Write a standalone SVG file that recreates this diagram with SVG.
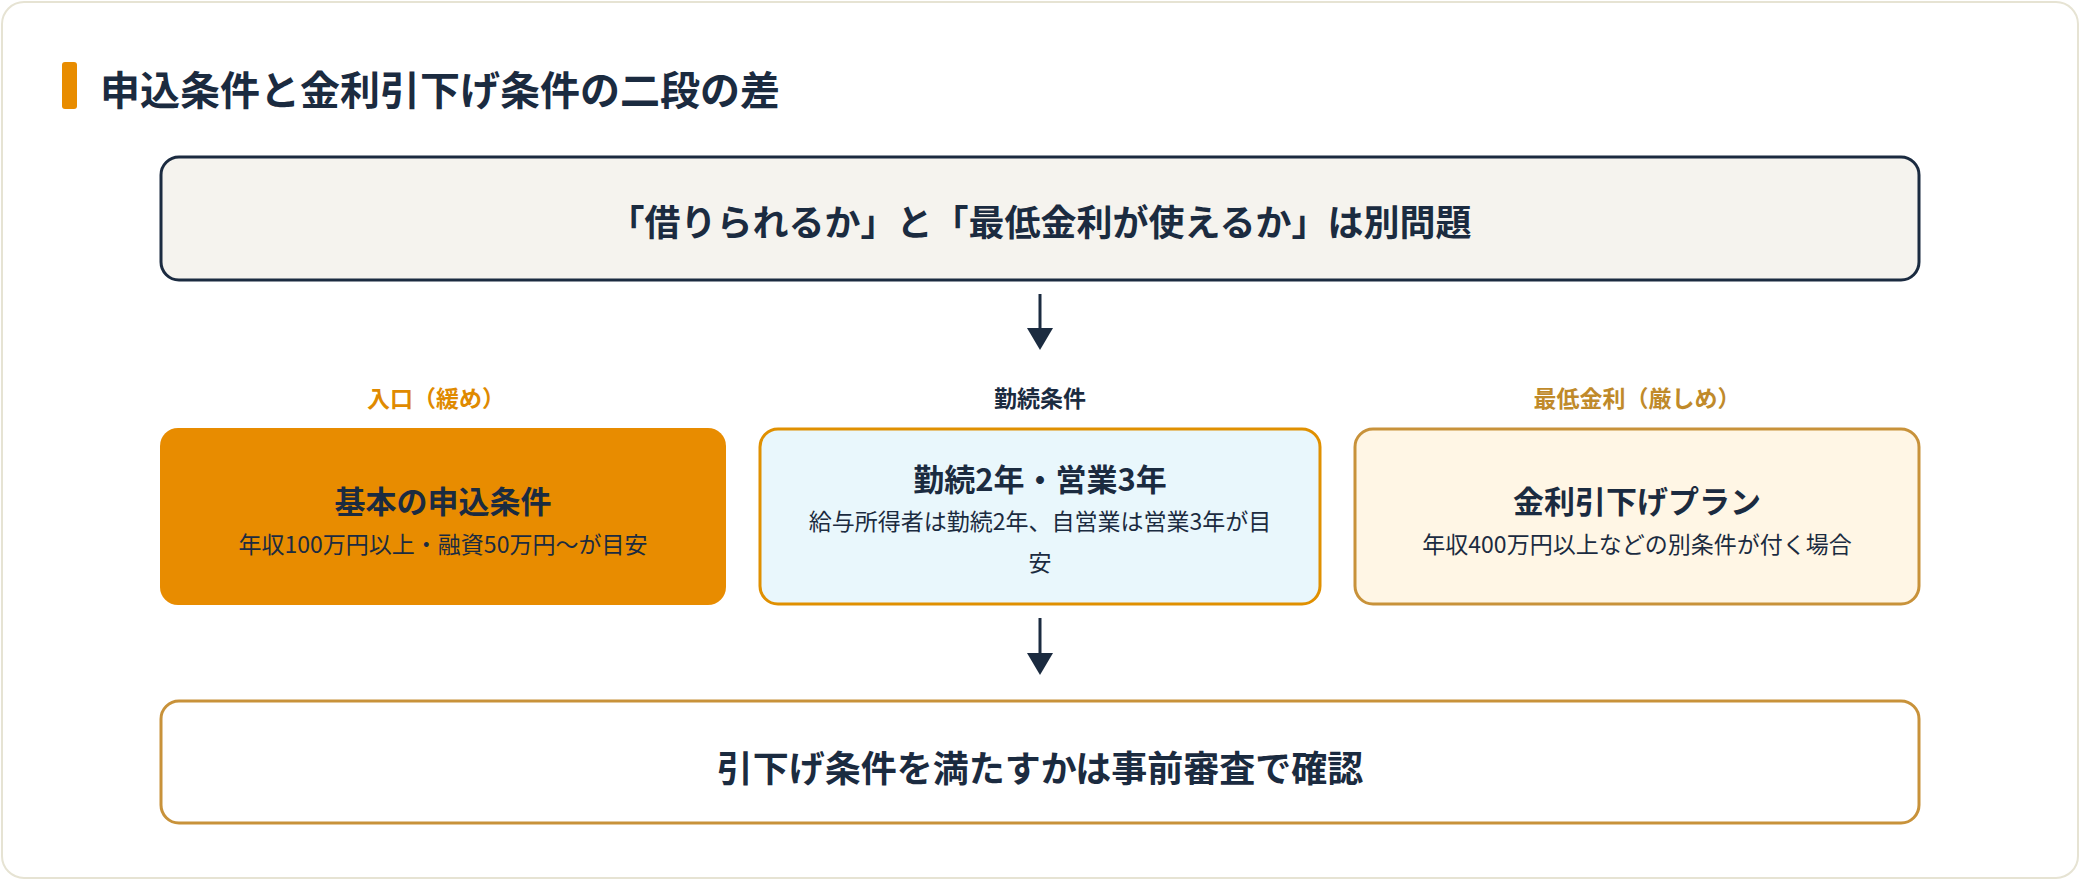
<svg xmlns="http://www.w3.org/2000/svg" width="2080" height="880" viewBox="0 0 2080 880">
<style>
text{font-family:"Noto Sans CJK JP","Noto Sans",sans-serif;font-weight:700;text-anchor:middle;dominant-baseline:central;fill:#1b2b40}
.sub{font-weight:400;font-size:23px}
.lab{font-size:23px}
</style>
<defs><marker id="ah" viewBox="0 0 10 10" refX="5" refY="5" markerWidth="10" markerHeight="10" markerUnits="userSpaceOnUse" orient="auto"><path d="M0,0L10,5L0,10z" fill="#1b2b40"/></marker></defs>
<rect x="2" y="2" width="2076" height="876" rx="22" fill="#fff" stroke="#e6e3d3" stroke-width="2"/>
<g id="title"><rect x="62" y="62" width="15" height="47" rx="3" fill="#e88c00"/><text x="100" y="88" style="text-anchor:start;font-size:40px">申込条件と金利引下げ条件の二段の差</text></g>
<g id="top"><rect x="161" y="157" width="1758" height="123" rx="18" fill="#f5f3ee" stroke="#1b2b40" stroke-width="3"/><text x="1040" y="220" style="font-size:36px">「借りられるか」と「最低金利が使えるか」は別問題</text></g>
<g id="connectors" stroke="#1b2b40" stroke-width="3" fill="none">
<line x1="1040" y1="294" x2="1040" y2="330"/><path d="M1027,328L1040,350L1053,328z" fill="#1b2b40" stroke="none"/>
<line x1="1040" y1="618" x2="1040" y2="655"/><path d="M1027,653L1040,675L1053,653z" fill="#1b2b40" stroke="none"/>
</g>
<g id="labels"><text class="lab" x="436" y="397" style="fill:#e08a00">入口（緩め）</text><text class="lab" x="1040" y="397">勤続条件</text><text class="lab" x="1637" y="397" style="fill:#c08a2a">最低金利（厳しめ）</text></g>
<g id="box1"><rect x="160" y="428" width="566" height="177" rx="18" fill="#e88c00"/><text x="443" y="499" style="font-size:31px">基本の申込条件</text><text class="sub" x="443" y="543">年収100万円以上・融資50万円〜が目安</text></g>
<g id="box2"><rect x="760" y="429" width="560" height="175" rx="18" fill="#e9f7fc" stroke="#e09000" stroke-width="3"/><text x="1040" y="477" style="font-size:31px">勤続2年・営業3年</text><text class="sub" x="1040" y="520">給与所得者は勤続2年、自営業は営業3年が目</text><text class="sub" x="1040" y="561">安</text></g>
<g id="box3"><rect x="1355" y="429" width="564" height="175" rx="18" fill="#fff6e5" stroke="#c8923a" stroke-width="3"/><text x="1637" y="499" style="font-size:31px">金利引下げプラン</text><text class="sub" x="1637" y="543">年収400万円以上などの別条件が付く場合</text></g>
<g id="bottom"><rect x="161" y="701" width="1758" height="122" rx="18" fill="#fff" stroke="#c8923a" stroke-width="3"/><text x="1040" y="766" style="font-size:36px">引下げ条件を満たすかは事前審査で確認</text></g>
</svg>
